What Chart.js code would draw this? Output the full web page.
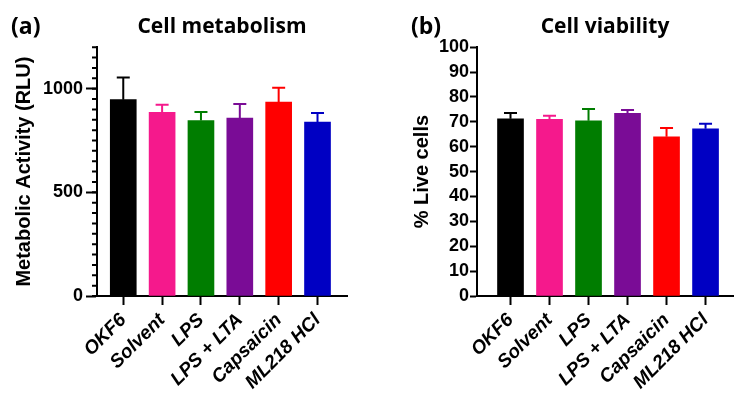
<!DOCTYPE html>
<html>
<head>
<meta charset="utf-8">
<script src="https://cdn.jsdelivr.net/npm/chart.js@4/dist/chart.umd.min.js"></script>
<style>
  html, body { margin:0; padding:0; background:#fff; }
  #wrap { position:relative; width:748px; height:401px; }
  .panel { position:absolute; top:0; width:374px; height:401px; }
  #panel-a { left:0; }
  #panel-b { left:374px; }
</style>
</head>
<body>
<div id="wrap">
  <div class="panel" id="panel-a"><canvas id="metabolism-canvas" width="374" height="401"></canvas></div>
  <div class="panel" id="panel-b"><canvas id="viability-canvas" width="374" height="401"></canvas></div>
</div>
<script>
/* ═══════════════════════════════════════════ */
/* DATA                                        */
/* ═══════════════════════════════════════════ */
const categories = ['OKF6', 'Solvent', 'LPS', 'LPS + LTA', 'Capsaicin', 'ML218 HCl'];
const barColors = ['#000000', '#f5198c', '#007d00', '#7a0c96', '#ff0000', '#0000c3'];

const metabolism = [947, 886, 846, 858, 935, 839];
const metabolismSd = [107, 37, 41, 68, 70, 44];
const metabolismTicks = [0, 500, 1000];
const metabolismMinorStep = 50;

const viability = [71.2, 71.0, 70.4, 73.4, 64.0, 67.2];
const viabilitySd = [2.4, 1.4, 4.8, 1.4, 3.5, 2.0];

/* ═══════════════════════════════════════════ */
/* PLUGINS                                     */
/* ═══════════════════════════════════════════ */
const errorBars = {
  id: 'errorBars',
  afterDatasetsDraw(chart, args, opts) {
    const { ctx } = chart;
    const y = chart.scales.y;
    const meta = chart.getDatasetMeta(0);
    const ds = chart.data.datasets[0];
    ctx.save();
    ctx.lineWidth = 2;
    meta.data.forEach((bar, i) => {
      const v = ds.data[i].y;
      const top = y.getPixelForValue(v + opts.errors[i]);
      const base = y.getPixelForValue(v);
      ctx.strokeStyle = ds.backgroundColor[i];
      ctx.beginPath();
      ctx.moveTo(bar.x, base);
      ctx.lineTo(bar.x, top);
      ctx.moveTo(bar.x - 6.5, top);
      ctx.lineTo(bar.x + 6.5, top);
      ctx.stroke();
    });
    ctx.restore();
  },
};

// short unlabelled ticks between the major ones on the y axis
const minorTicks = {
  id: 'minorTicks',
  afterDraw(chart, args, opts) {
    if (!opts.step) return;
    const { ctx } = chart;
    const y = chart.scales.y;
    const x0 = chart.chartArea.left;
    ctx.save();
    ctx.strokeStyle = '#000';
    ctx.lineWidth = 2;
    ctx.beginPath();
    for (let v = y.min; v <= y.max; v += opts.step) {
      const py = y.getPixelForValue(v);
      ctx.moveTo(x0, py);
      ctx.lineTo(x0 - opts.length, py);
    }
    ctx.stroke();
    ctx.restore();
  },
};

const panelLabel = {
  id: 'panelLabel',
  afterDraw(chart, args, opts) {
    const { ctx } = chart;
    ctx.save();
    ctx.fillStyle = '#000';
    ctx.font = 'bold 23px "Open Sans", Lato, sans-serif';
    ctx.textBaseline = 'middle';
    ctx.fillText(opts.text, opts.x, opts.y);
    ctx.restore();
  },
};

/* ═══════════════════════════════════════════ */
/* SHARED OPTIONS                              */
/* ═══════════════════════════════════════════ */
const sans = '"Liberation Sans", Arial, Helvetica, sans-serif';
const tickFont = { family: sans, size: 18, weight: 'bold' };
const axisTitleFont = { family: sans, size: 20, weight: 'bold' };
const catFont = { family: sans, size: 19, weight: 'bold', style: 'italic' };
const titleFont = { family: '"Open Sans", Lato, sans-serif', size: 21, weight: 'bold' };

function xAxis(min, max) {
  return {
    type: 'linear', min, max, offset: false,
    afterFit(s) { s.height = 105; },
    grid: { offset: false, drawOnChartArea: false, tickLength: 9, tickWidth: 2, tickColor: '#000' },
    border: { color: '#000', width: 2 },
    ticks: {
      stepSize: 1, includeBounds: false, autoSkip: false,
      minRotation: 45, maxRotation: 45, padding: 4,
      color: '#000', font: catFont,
      callback: (v) => categories[v] ?? '',
    },
  };
}

function barData(values) {
  return {
    datasets: [{
      data: values.map((v, i) => ({ x: i, y: v })),
      backgroundColor: barColors,
      borderWidth: 0,
      barThickness: 26,
    }],
  };
}

function title(text) {
  return { display: true, text, color: '#000', font: titleFont, fullSize: false, padding: { top: 14, bottom: 8 } };
}

/* ═══════════════════════════════════════════ */
/* (a) CELL METABOLISM                         */
/* ═══════════════════════════════════════════ */
new Chart(document.getElementById('metabolism-canvas'), {
  type: 'bar',
  data: barData(metabolism),
  plugins: [errorBars, minorTicks, panelLabel],
  options: {
    responsive: false, animation: false, devicePixelRatio: 1,
    layout: { padding: { left: 0, right: 27, top: 0, bottom: 0 } },
    plugins: {
      legend: { display: false }, tooltip: { enabled: false },
      title: title('Cell metabolism'),
      errorBars: { errors: metabolismSd },
      minorTicks: { step: metabolismMinorStep, length: 5 },
      panelLabel: { text: '(a)', x: 11, y: 27 },
    },
    scales: {
      x: xAxis(-0.676, 5.759),
      y: {
        type: 'linear', position: 'left', min: 0, max: 1200,
        afterFit(s) { s.width = 97; },
        afterBuildTicks(s) { s.ticks = metabolismTicks.map(v => ({ value: v })); },
        grid: { drawOnChartArea: false, tickLength: 11, tickWidth: 2, tickColor: '#000' },
        border: { color: '#000', width: 2 },
        ticks: { autoSkip: false, padding: 3, color: '#000', font: tickFont, callback: (v) => String(v) },
        title: { display: true, text: 'Metabolic Activity (RLU)', color: '#000', font: axisTitleFont, padding: { top: 12, bottom: 0 } },
      },
    },
  },
});

/* ═══════════════════════════════════════════ */
/* (b) CELL VIABILITY                          */
/* ═══════════════════════════════════════════ */
new Chart(document.getElementById('viability-canvas'), {
  type: 'bar',
  data: barData(viability),
  plugins: [errorBars, panelLabel],
  options: {
    responsive: false, animation: false, devicePixelRatio: 1,
    layout: { padding: { left: 0, right: 15, top: 0, bottom: 0 } },
    plugins: {
      legend: { display: false }, tooltip: { enabled: false },
      title: title('Cell viability'),
      errorBars: { errors: viabilitySd },
      panelLabel: { text: '(b)', x: 37, y: 27 },
    },
    scales: {
      x: xAxis(-0.859, 5.704),
      y: {
        type: 'linear', position: 'left', min: 0, max: 100,
        afterFit(s) { s.width = 103; },
        grid: { drawOnChartArea: false, tickLength: 7, tickWidth: 2, tickColor: '#000' },
        border: { color: '#000', width: 2 },
        ticks: { stepSize: 10, autoSkip: false, padding: 1, color: '#000', font: tickFont },
        title: { display: true, text: '% Live cells', color: '#000', font: axisTitleFont, padding: { top: 36, bottom: 0 } },
      },
    },
  },
});
</script>
</body>
</html>
